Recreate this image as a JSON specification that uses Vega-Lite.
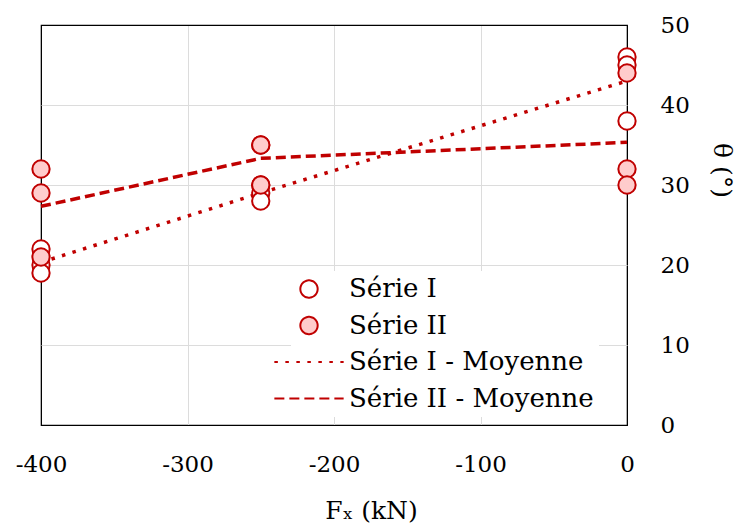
{
  "$schema": "https://vega.github.io/schema/vega-lite/v6.json",
  "width": 586,
  "height": 400,
  "autosize": "none",
  "padding": {"left": 41, "top": 25, "right": 119, "bottom": 105},
  "config": {
    "font": "DejaVu Serif",
    "view": {"stroke": "black", "strokeWidth": 1.2},
    "axis": {
      "labelFont": "DejaVu Serif",
      "labelFontSize": 23,
      "labelColor": "black",
      "labelFlush": false,
      "titleFont": "DejaVu Serif",
      "titleFontSize": 25,
      "titleFontWeight": "normal",
      "titleColor": "black",
      "gridColor": "#dcdcdc",
      "gridWidth": 1,
      "ticks": false,
      "domain": false
    },
    "legend": {
      "orient": "none",
      "legendX": 250,
      "legendY": 246,
      "fillColor": "white",
      "padding": 5,
      "labelFont": "DejaVu Serif",
      "labelFontSize": 26,
      "labelColor": "black",
      "labelOffset": 27,
      "labelLimit": 400,
      "rowPadding": 10.5,
      "symbolSize": 300,
      "title": null
    }
  },
  "data": {
    "values": [
      {"fx": -400, "theta": 22, "serie": "Série I", "moyenne": "Série I - Moyenne"},
      {"fx": -400, "theta": 20, "serie": "Série I", "moyenne": "Série I - Moyenne"},
      {"fx": -400, "theta": 19, "serie": "Série I", "moyenne": "Série I - Moyenne"},
      {"fx": -250, "theta": 30, "serie": "Série I", "moyenne": "Série I - Moyenne"},
      {"fx": -250, "theta": 29, "serie": "Série I", "moyenne": "Série I - Moyenne"},
      {"fx": -250, "theta": 28, "serie": "Série I", "moyenne": "Série I - Moyenne"},
      {"fx": 0, "theta": 46, "serie": "Série I", "moyenne": "Série I - Moyenne"},
      {"fx": 0, "theta": 45, "serie": "Série I", "moyenne": "Série I - Moyenne"},
      {"fx": 0, "theta": 38, "serie": "Série I", "moyenne": "Série I - Moyenne"},
      {"fx": -400, "theta": 32, "serie": "Série II", "moyenne": "Série II - Moyenne"},
      {"fx": -400, "theta": 29, "serie": "Série II", "moyenne": "Série II - Moyenne"},
      {"fx": -400, "theta": 21, "serie": "Série II", "moyenne": "Série II - Moyenne"},
      {"fx": -250, "theta": 35, "serie": "Série II", "moyenne": "Série II - Moyenne"},
      {"fx": -250, "theta": 35, "serie": "Série II", "moyenne": "Série II - Moyenne"},
      {"fx": -250, "theta": 30, "serie": "Série II", "moyenne": "Série II - Moyenne"},
      {"fx": 0, "theta": 44, "serie": "Série II", "moyenne": "Série II - Moyenne"},
      {"fx": 0, "theta": 32, "serie": "Série II", "moyenne": "Série II - Moyenne"},
      {"fx": 0, "theta": 30, "serie": "Série II", "moyenne": "Série II - Moyenne"}
    ]
  },
  "layer": [
    {
      "mark": {"type": "line", "strokeCap": "butt", "strokeWidth": 3.5},
      "encoding": {
        "x": {
          "field": "fx", "type": "quantitative",
          "scale": {"domain": [-400, 0], "nice": false, "zero": false},
          "axis": {
            "values": [-400, -300, -200, -100, 0], "labelPadding": 28, "labelExpr": "'' + datum.value",
            "title": "Fₓ (kN)", "titleX": 330, "titleY": 85, "titleBaseline": "middle",
            "gridColor": {"condition": {"test": "datum.value === -400 || datum.value === 0", "value": "black"}, "value": "#dcdcdc"}
          }
        },
        "y": {
          "aggregate": "mean", "field": "theta", "type": "quantitative",
          "scale": {"domain": [0, 50], "nice": false},
          "axis": {
            "orient": "right", "values": [0, 10, 20, 30, 40, 50], "labelPadding": 33,
            "title": "θ (°)", "titleX": 94, "titleY": 145, "titleBaseline": "middle", "titleAlign": "center", "titleAngle": 90,
            "gridColor": {"condition": {"test": "datum.value === 0 || datum.value === 50", "value": "black"}, "value": "#dcdcdc"}
          }
        },
        "stroke": {
          "field": "moyenne", "type": "nominal",
          "scale": {"domain": ["Série I", "Série II", "Série I - Moyenne", "Série II - Moyenne"], "range": ["#c00000", "#c00000", "#c00000", "#c00000"]},
          "legend": {"title": null}
        },
        "strokeDash": {
          "field": "moyenne", "type": "nominal",
          "scale": {"domain": ["Série I", "Série II", "Série I - Moyenne", "Série II - Moyenne"], "range": [[1, 0], [1, 0], [3.5, 7.5], [10, 5]]},
          "legend": {"title": null}
        },
        "strokeWidth": {
          "field": "moyenne", "type": "nominal",
          "scale": {"domain": ["Série I", "Série II", "Série I - Moyenne", "Série II - Moyenne"], "range": [2, 2, 3.5, 3.5]},
          "legend": {"title": null}
        }
      }
    },
    {
      "mark": {"type": "point", "opacity": 1, "fillOpacity": 1, "size": 300, "strokeWidth": 2},
      "encoding": {
        "x": {"field": "fx", "type": "quantitative"},
        "y": {"field": "theta", "type": "quantitative", "title": "θ (°)"},
        "stroke": {
          "field": "serie", "type": "nominal",
          "scale": {"domain": ["Série I", "Série II", "Série I - Moyenne", "Série II - Moyenne"], "range": ["#c00000", "#c00000", "#c00000", "#c00000"]},
          "legend": {"title": null}
        },
        "fill": {
          "field": "serie", "type": "nominal",
          "scale": {"domain": ["Série I", "Série II", "Série I - Moyenne", "Série II - Moyenne"], "range": ["white", "#ffcccc", "transparent", "transparent"]},
          "legend": {"title": null}
        },
        "shape": {
          "field": "serie", "type": "nominal",
          "scale": {"domain": ["Série I", "Série II", "Série I - Moyenne", "Série II - Moyenne"], "range": ["circle", "circle", "M-4,0L4,0", "M-4,0L4,0"]},
          "legend": {"title": null}
        },
        "strokeWidth": {
          "field": "serie", "type": "nominal",
          "scale": {"domain": ["Série I", "Série II", "Série I - Moyenne", "Série II - Moyenne"], "range": [2, 2, 3.5, 3.5]},
          "legend": {"title": null}
        }
      }
    }
  ]
}
